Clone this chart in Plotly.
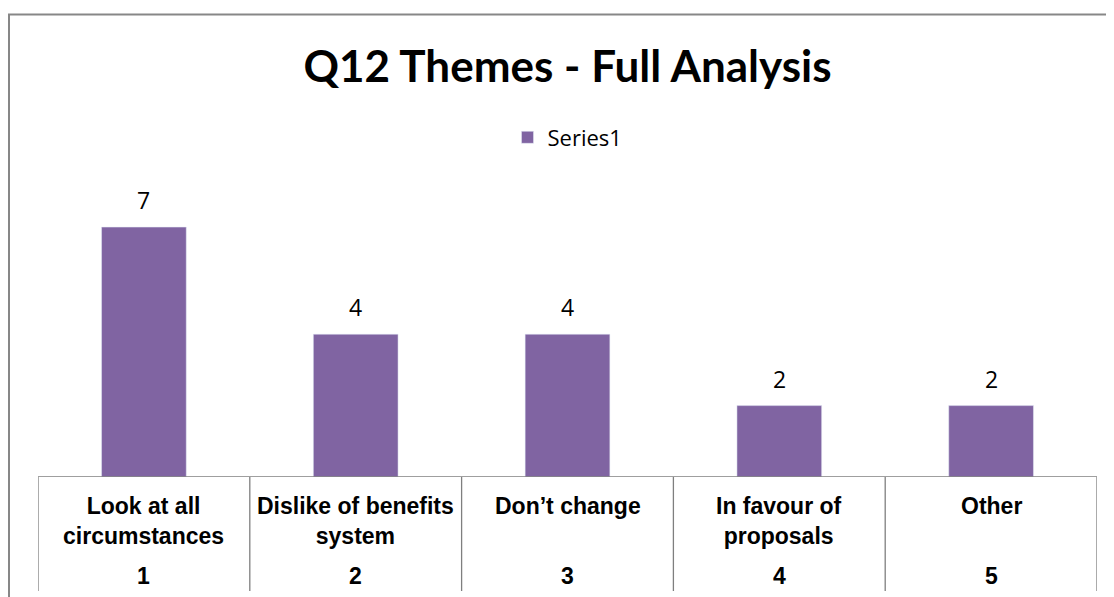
import plotly.graph_objects as go

# chart data
themes = ["Look at all<br>circumstances", "Dislike of benefits<br>system", "Don\u2019t change",
          "In favour of<br>proposals", "Other"]
theme_nums = ["1", "2", "3", "4", "5"]
counts = [7, 4, 4, 2, 2]
series_name = "Series1"

BAR_COLOR = "#8064A2"
GRID_COLOR = "#7f7f7f"
PX_PER_PAPER = 357.0  # plot area height in px
BODY = 8  # default page margin of the html body


def px_to_paper_y(offset_px):
    # pixels below the baseline -> negative paper coord
    return -offset_px / PX_PER_PAPER


xs = list(range(len(counts)))

fig = go.Figure()
fig.add_trace(go.Bar(x=xs, y=counts, name=series_name, marker_color=BAR_COLOR,
                     width=0.4, showlegend=True))

annotations = []
# data labels above the bars
for x, v in zip(xs, counts):
    annotations.append(dict(x=x, y=v, xref="x", yref="y", text=str(v), showarrow=False,
                            yanchor="bottom", yshift=9,
                            font=dict(family="Open Sans", size=23, color="#000000")))
# category table text
for x, name, num in zip(xs, themes, theme_nums):
    annotations.append(dict(x=x, y=px_to_paper_y(14), xref="x", yref="paper", text="<b>%s</b>" % name,
                            showarrow=False, yanchor="top",
                            font=dict(family="Liberation Sans", size=23, color="#000000")))
    annotations.append(dict(x=x, y=px_to_paper_y(99), xref="x", yref="paper", text="<b>%s</b>" % num,
                            showarrow=False, yanchor="middle",
                            font=dict(family="Liberation Sans", size=23, color="#000000")))

shapes = []
# baseline of the category table
shapes.append(dict(type="line", xref="x", yref="y", x0=-0.5, x1=len(counts) - 0.5, y0=0, y1=0,
                   line=dict(color=GRID_COLOR, width=1.3)))
# vertical dividers
for i in range(len(counts) + 1):
    shapes.append(dict(type="line", xref="x", yref="paper", x0=i - 0.5, x1=i - 0.5,
                       y0=0, y1=px_to_paper_y(114), line=dict(color=GRID_COLOR, width=1.3)))
# chart border
shapes.append(dict(type="rect", xref="paper", yref="paper", x0=-29 / 1059, x1=1.2,
                   y0=-0.6, y1=462.5 / PX_PER_PAPER, line=dict(color="#878787", width=2),
                   fillcolor="rgba(0,0,0,0)"))

W, H = 1114 - BODY, 597 - BODY
fig.update_layout(
    width=W, height=H,
    margin=dict(l=38 - BODY, r=17, t=120 - BODY, b=120),
    paper_bgcolor="white", plot_bgcolor="white",
    title=dict(text="<b>Q12 Themes - Full Analysis</b>", x=0.5, xref="paper", xanchor="center",
               y=1 - (67 - BODY) / H, yanchor="middle",
               font=dict(family="Lato", size=44, color="#000000")),
    legend=dict(orientation="h", x=0.5, xanchor="center", y=339.5 / PX_PER_PAPER, yanchor="middle",
                font=dict(family="Open Sans", size=22, color="#000000")),
    xaxis=dict(range=[-0.5, len(counts) - 0.5], showticklabels=False, showgrid=False,
               zeroline=False, showline=False, ticks=""),
    yaxis=dict(range=[0, 10], visible=False),
    annotations=annotations,
    shapes=shapes,
    bargap=0.6,
)

fig.write_html("out.html")
